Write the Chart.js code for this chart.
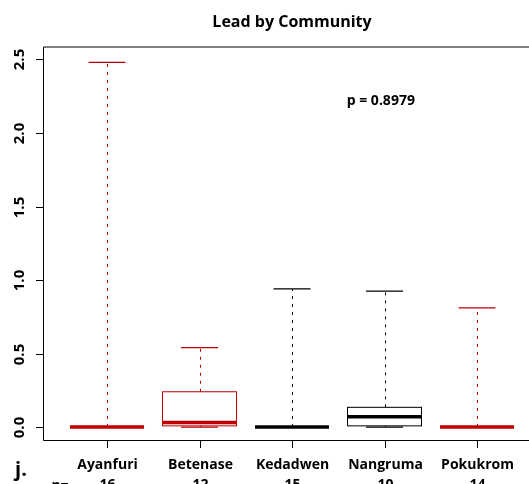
<!DOCTYPE html>
<html>
<head>
<meta charset="utf-8">
<script src="https://cdn.jsdelivr.net/npm/chart.js@4"></script>
<style>
  html, body { margin: 0; padding: 0; background: #fff; }
  canvas { display: block; }
</style>
</head>
<body>
<canvas id="chart" width="529" height="484"></canvas>
<script>
// Lead concentrations per community: five-number summaries for each box
const communities = ['Ayanfuri', 'Betenase', 'Kedadwen', 'Nangruma', 'Pokukrom'];
const sampleSizes = [16, 12, 15, 10, 14];
const lowerWhisker = [0, 0, 0, 0, 0];
const lowerQuartile = [0, 0.008, 0, 0.008, 0];
const medians = [0, 0.03, 0, 0.07, 0];
const upperQuartile = [0, 0.24, 0, 0.134, 0];
const upperWhisker = [2.48, 0.54, 0.94, 0.925, 0.81];
const boxColours = ['#C00000', '#C00000', '#000000', '#000000', '#C00000'];
const yTicks = [0, 0.5, 1, 1.5, 2, 2.5];
const pValueText = 'p = 0.8979';

const FONT = '"Open Sans", "DejaVu Sans", sans-serif';

const boxplotPlugin = {
  id: 'boxplot',
  afterDraw(chart) {
    const ctx = chart.ctx;
    const xs = chart.scales.x;
    const ys = chart.scales.y;
    const area = chart.chartArea;
    const halfBox = 0.4;      // box half-width in category units
    const halfCap = 0.2;      // whisker staple half-width

    ctx.save();

    // boxes, whiskers and medians
    communities.forEach((name, i) => {
      const pos = i + 1;
      const col = boxColours[i];
      const xc = Math.round(xs.getPixelForValue(pos)) + 0.5;
      const xl = xs.getPixelForValue(pos - halfBox);
      const xr = xs.getPixelForValue(pos + halfBox);
      const cl = xs.getPixelForValue(pos - halfCap);
      const cr = xs.getPixelForValue(pos + halfCap);
      const yMin = ys.getPixelForValue(lowerWhisker[i]);
      const yQ1 = ys.getPixelForValue(lowerQuartile[i]);
      const yMed = ys.getPixelForValue(medians[i]);
      const yQ3 = ys.getPixelForValue(upperQuartile[i]);
      const yMax = ys.getPixelForValue(upperWhisker[i]);

      ctx.strokeStyle = col;
      // dashed whiskers
      ctx.lineWidth = 1;
      ctx.setLineDash([3, 5]);
      ctx.beginPath();
      ctx.moveTo(xc, yQ3);
      ctx.lineTo(xc, yMax);
      ctx.moveTo(xc, yQ1);
      ctx.lineTo(xc, yMin);
      ctx.stroke();
      ctx.setLineDash([]);

      // staples
      ctx.lineWidth = 1.3;
      ctx.beginPath();
      ctx.moveTo(cl, yMax);
      ctx.lineTo(cr, yMax);
      ctx.moveTo(cl, yMin);
      ctx.lineTo(cr, yMin);
      ctx.stroke();

      // box outline
      ctx.lineWidth = 1;
      ctx.strokeRect(xl, yQ3, xr - xl, yQ1 - yQ3);

      // median
      ctx.lineWidth = 3.5;
      ctx.beginPath();
      ctx.moveTo(xl, yMed);
      ctx.lineTo(xr, yMed);
      ctx.stroke();
    });

    // plot frame (right side lies beyond the canvas)
    ctx.strokeStyle = '#000';
    ctx.lineWidth = 1;
    ctx.beginPath();
    ctx.moveTo(area.right, area.top);
    ctx.lineTo(43.5, area.top);
    ctx.lineTo(43.5, area.bottom - 0.5);
    ctx.lineTo(area.right, area.bottom - 0.5);
    ctx.stroke();

    // y axis ticks and rotated labels
    ctx.fillStyle = '#000';
    ctx.font = 'bold 15px ' + FONT;
    ctx.textAlign = 'center';
    ctx.textBaseline = 'middle';
    yTicks.forEach(v => {
      const y = Math.round(ys.getPixelForValue(v)) + 0.5;
      ctx.beginPath();
      ctx.moveTo(36, y);
      ctx.lineTo(43.5, y);
      ctx.stroke();
      ctx.save();
      ctx.translate(20, y);
      ctx.rotate(-Math.PI / 2);
      ctx.fillText(v.toFixed(1), 0, 0);
      ctx.restore();
    });

    // x axis ticks, community names and sample sizes
    communities.forEach((name, i) => {
      const x = Math.round(xs.getPixelForValue(i + 1)) + 0.5;
      ctx.beginPath();
      ctx.moveTo(x, area.bottom - 0.5);
      ctx.lineTo(x, area.bottom + 7);
      ctx.stroke();
      ctx.font = 'bold 14px ' + FONT;
      ctx.textBaseline = 'alphabetic';
      ctx.fillText(name, x, 469);
      ctx.fillText(String(sampleSizes[i]), x, 489);
    });
    ctx.textAlign = 'center';
    ctx.fillText('n=', 60, 490);
    ctx.font = 'bold 20px ' + FONT;
    ctx.fillText('j.', 21, 476);

    // p-value annotation
    ctx.font = 'bold 14px ' + FONT;
    ctx.textBaseline = 'middle';
    ctx.fillText(pValueText, xs.getPixelForValue(3.96), ys.getPixelForValue(2.22));

    // title
    ctx.font = 'bold 16px ' + FONT;
    ctx.textBaseline = 'alphabetic';
    ctx.fillText('Lead by Community', xs.getPixelForValue(3), 27);

    ctx.restore();
  }
};

new Chart(document.getElementById('chart'), {
  type: 'scatter',
  data: { datasets: [] },
  options: {
    responsive: false,
    animation: false,
    devicePixelRatio: 1,
    layout: { padding: { left: 43, top: 47, right: 0, bottom: 43 } },
    plugins: { legend: { display: false }, tooltip: { enabled: false } },
    scales: {
      x: { type: 'linear', min: 0.308, max: 5.562, display: false },
      y: { type: 'linear', min: -0.095, max: 2.585, display: false }
    }
  },
  plugins: [boxplotPlugin]
});
</script>
</body>
</html>
